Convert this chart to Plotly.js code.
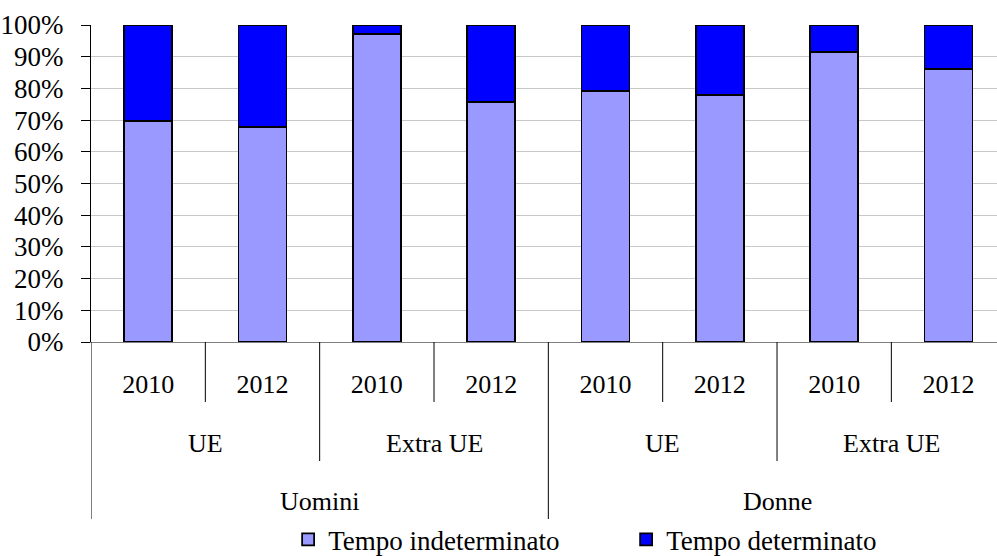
<!DOCTYPE html>
<html>
<head>
<meta charset="utf-8">
<script src="https://cdn.plot.ly/plotly-3.0.1.min.js"></script>
<style>html,body{margin:0;padding:0;background:#fff;}#chart{width:997px;height:556px;}</style>
</head>
<body>
<div id="chart"></div>
<script>
// ---- data ----
var years = ['2010', '2012', '2010', '2012', '2010', '2012', '2010', '2012'];
var origins = ['UE', 'Extra UE', 'UE', 'Extra UE'];
var sexes = ['Uomini', 'Donne'];
var indeterminato = [69.8, 67.7, 97.1, 75.8, 79.3, 77.9, 91.6, 86.1];
var determinato = [30.2, 32.3, 2.9, 24.2, 20.7, 22.1, 8.4, 13.9];
var yTicks = [0, 10, 20, 30, 40, 50, 60, 70, 80, 90, 100];

var FONT = "'Liberation Serif', 'Times New Roman', 'DejaVu Serif', serif";
var idx = years.map(function (_, i) { return i; });

var traces = [
  { type: 'bar', name: 'Tempo indeterminato', x: idx, y: indeterminato,
    marker: { color: '#9999FF', line: { color: '#000000', width: 1.8 } }, hoverinfo: 'y' },
  { type: 'bar', name: 'Tempo determinato', x: idx, y: determinato,
    marker: { color: '#0000FF', line: { color: '#000000', width: 1.8 } }, hoverinfo: 'y' }
];

// hierarchical axis decorations
var shapes = [];
var annotations = [];
var PH = 317; // plot height px
function py(px) { return -(px - 342) / PH; }
var yYearEnd = py(402), yOrigEnd = py(461), ySexEnd = py(519);
for (var k = 0; k < years.length; k++) {
  var xb = k - 0.5;
  var yEnd = (k % 4 === 0) ? ySexEnd : (k % 2 === 0 ? yOrigEnd : yYearEnd);
  shapes.push({ type: 'line', xref: 'x', yref: 'paper', x0: xb, x1: xb, y0: 0, y1: yEnd,
    line: { color: '#000000', width: 1 } });
}
origins.forEach(function (o, i) {
  annotations.push({ xref: 'x', yref: 'paper', x: 2 * i + 0.5, y: py(443), text: o, showarrow: false,
    xanchor: 'center', yanchor: 'middle', font: { family: FONT, size: 26, color: '#000' } });
});
sexes.forEach(function (s, i) {
  annotations.push({ xref: 'x', yref: 'paper', x: 4 * i + 1.5, y: py(501), text: s, showarrow: false,
    xanchor: 'center', yanchor: 'middle', font: { family: FONT, size: 26, color: '#000' } });
});

var layout = {
  width: 997, height: 556,
  font: { family: FONT, color: '#000' },
  margin: { l: 91, r: 0, t: 25, b: 214 },
  paper_bgcolor: '#ffffff', plot_bgcolor: '#ffffff',
  barmode: 'stack', bargap: 0.58,
  showlegend: true,
  legend: { orientation: 'h', xref: 'container', yref: 'container', x: 0.289, y: 0.029,
    xanchor: 'left', yanchor: 'middle', entrywidth: 293, entrywidthmode: 'pixels',
    font: { family: FONT, size: 27, color: '#000' }, traceorder: 'normal', bgcolor: 'rgba(0,0,0,0)' },
  xaxis: { type: 'linear', range: [-0.5, 7.424], tickvals: idx, ticktext: years,
    showgrid: false, zeroline: false, ticks: '', showline: true, linecolor: '#808080', linewidth: 1,
    tickfont: { family: FONT, size: 26, color: '#000' }, ticklabelstandoff: 19, fixedrange: true },
  yaxis: { range: [0, 100], tickvals: yTicks, ticktext: yTicks.map(function (v) { return v + '%'; }),
    showgrid: true, gridcolor: '#c8c8c8', gridwidth: 1, zeroline: false,
    showline: true, linecolor: '#000000', linewidth: 1, ticks: 'outside', ticklen: 9, tickcolor: '#000',
    tickfont: { family: FONT, size: 27, color: '#000' }, ticklabelstandoff: 12, fixedrange: true },
  shapes: shapes,
  annotations: annotations
};

Plotly.newPlot('chart', traces, layout, { displayModeBar: false, staticPlot: true });
</script>
</body>
</html>
